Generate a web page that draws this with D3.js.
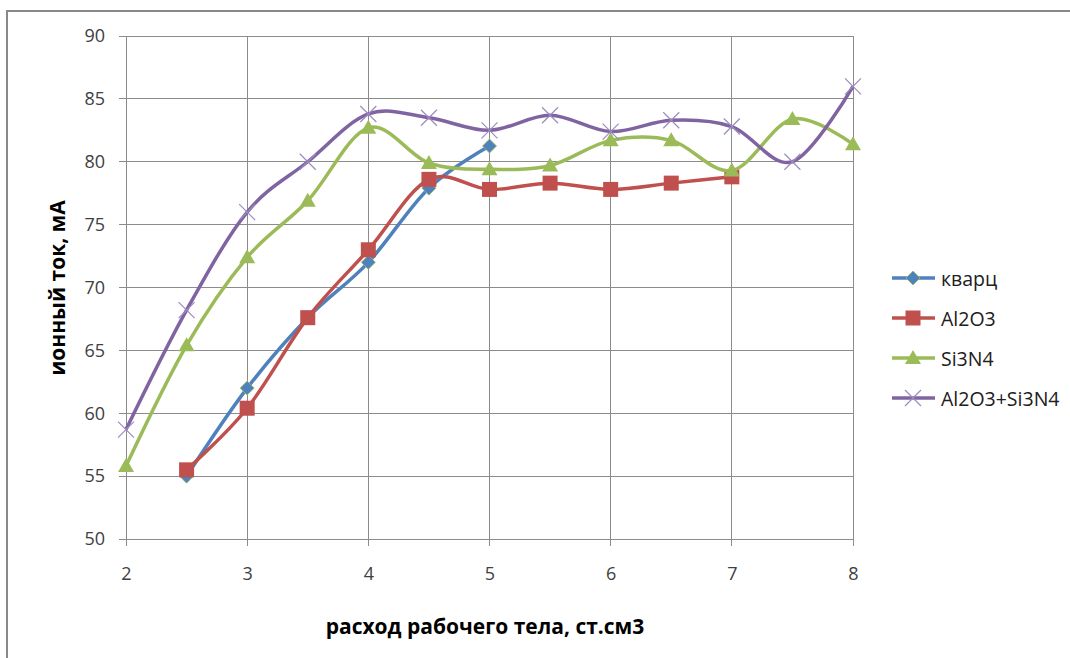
<!DOCTYPE html>
<html><head><meta charset="utf-8">
<script src="https://cdn.jsdelivr.net/npm/d3@7"></script>
<style>body{margin:0;background:#fff}svg{display:block}text{font-family:"Open Sans",sans-serif}</style>
</head><body>
<script>
const xTicks = [2,3,4,5,6,7,8];
const yTicks = [50,55,60,65,70,75,80,85,90];
const seriesNames = ["кварц","Al2O3","Si3N4","Al2O3+Si3N4"];
const kvarcX = [2.5,3,3.5,4,4.5,5];
const kvarcY = [55,62,67.6,72,77.9,81.25];
const al2o3X = [2.5,3,3.5,4,4.5,5,5.5,6,6.5,7];
const al2o3Y = [55.5,60.4,67.6,73,78.6,77.8,78.3,77.8,78.3,78.8];
const si3n4X = [2,2.5,3,3.5,4,4.5,5,5.5,6,6.5,7,7.5,8];
const si3n4Y = [55.8,65.4,72.4,76.9,82.7,79.9,79.4,79.7,81.7,81.7,79.3,83.4,81.4];
const mixX = [2,2.5,3,3.5,4,4.5,5,5.5,6,6.5,7,7.5,8];
const mixY = [58.7,68.2,76,80,83.8,83.5,82.5,83.7,82.4,83.3,82.8,80,86];
const xTitle = "расход рабочего тела, ст.см3";
const yTitle = "ионный ток, мА";

const colors = ["#4F81BD","#C0504D","#9BBB59","#8064A2"];
const markers = ["diamond","square","triangle","x"];
const series = [
  {name:seriesNames[0], xs:kvarcX, ys:kvarcY},
  {name:seriesNames[1], xs:al2o3X, ys:al2o3Y},
  {name:seriesNames[2], xs:si3n4X, ys:si3n4Y},
  {name:seriesNames[3], xs:mixX, ys:mixY}
];

const W=1070,H=658;
const svg=d3.select("body").append("svg").attr("width",W).attr("height",H);
// outer frame
svg.append("path").attr("d",`M7,${H+5}V11H${W+5}`).attr("fill","none").attr("stroke","#888").attr("stroke-width",2);

const x=d3.scaleLinear().domain([2,8]).range([126,853]);
const y=d3.scaleLinear().domain([50,90]).range([539,36]);

const g=svg.append("g");
// gridlines
g.selectAll(".vg").data(xTicks).join("line").attr("x1",d=>x(d)).attr("x2",d=>x(d)).attr("y1",y(90)).attr("y2",y(50)+7)
 .attr("stroke","#8c8c8c").attr("stroke-width",1).attr("shape-rendering","crispEdges");
g.selectAll(".hg").data(yTicks).join("line").attr("y1",d=>y(d)).attr("y2",d=>y(d)).attr("x1",x(2)-7).attr("x2",x(8))
 .attr("stroke","#8c8c8c").attr("stroke-width",1).attr("shape-rendering","crispEdges");

// axes labels via d3 axes (lines hidden)
const xa=svg.append("g").attr("transform",`translate(0,${y(50)})`).call(d3.axisBottom(x).tickValues(xTicks).tickSize(0).tickPadding(28).tickFormat(d3.format("d")));
const ya=svg.append("g").attr("transform",`translate(${x(2)},0)`).call(d3.axisLeft(y).tickValues(yTicks).tickSize(0).tickPadding(21).tickFormat(d3.format("d")));
[xa,ya].forEach(a=>{a.select(".domain").remove();a.selectAll("text").attr("font-size",18).attr("fill","#404040").attr("font-family","'Open Sans',sans-serif");});

svg.append("text").attr("x",485).attr("y",634).attr("text-anchor","middle").attr("font-size",21).attr("font-weight","bold").attr("fill","#000").text(xTitle);
svg.append("text").attr("transform","translate(65,288) rotate(-90)").attr("text-anchor","middle").attr("font-size",21).attr("font-weight","bold").attr("fill","#000").text(yTitle);

const line=d3.line().curve(d3.curveCatmullRom.alpha(0)).x(d=>x(d[0])).y(d=>y(d[1]));

function drawMarker(sel,type,color,cx,cy){
  if(type==="diamond"){
    sel.append("path").attr("d",`M${cx},${cy-7}L${cx+7},${cy}L${cx},${cy+7}L${cx-7},${cy}Z`).attr("fill",color).attr("stroke","#9BBB59").attr("stroke-width",0.8);
  } else if(type==="square"){
    sel.append("rect").attr("x",cx-7.5).attr("y",cy-7.5).attr("width",15).attr("height",15).attr("fill",color);
  } else if(type==="triangle"){
    sel.append("path").attr("d",`M${cx},${cy-8}L${cx+8},${cy+6}L${cx-8},${cy+6}Z`).attr("fill",color);
  } else {
    sel.append("path").attr("d",`M${cx-8},${cy-8}L${cx+8},${cy+8}M${cx-8},${cy+8}L${cx+8},${cy-8}`).attr("stroke","#9C8BC0").attr("stroke-width",1.2).attr("fill","none");
  }
}

series.forEach((s,i)=>{
  const pts=s.xs.map((v,j)=>[v,s.ys[j]]);
  svg.append("path").datum(pts).attr("d",line).attr("fill","none").attr("stroke",colors[i]).attr("stroke-width",3.5).attr("stroke-linejoin","round");
  const mg=svg.append("g");
  pts.forEach(p=>drawMarker(mg,markers[i],colors[i],x(p[0]),y(p[1])));
});

// legend
const lg=svg.append("g");
series.forEach((s,i)=>{
  const ly=278+i*40;
  lg.append("line").attr("x1",892).attr("x2",935).attr("y1",ly).attr("y2",ly).attr("stroke",colors[i]).attr("stroke-width",3.5);
  drawMarker(lg,markers[i],colors[i],913,ly);
  lg.append("text").attr("x",941).attr("y",ly+8).attr("font-size",19.5).attr("fill","#202020").text(s.name);
});
</script>
</body></html>
